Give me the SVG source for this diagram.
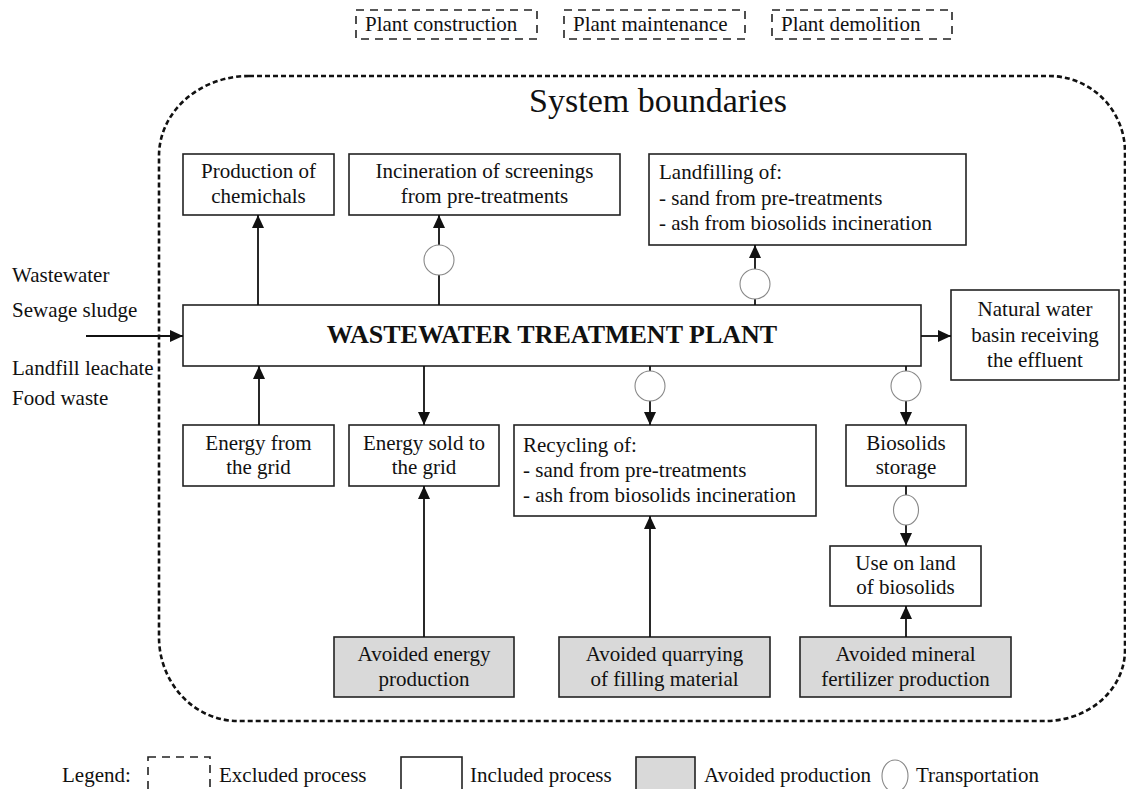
<svg xmlns="http://www.w3.org/2000/svg" width="1126" height="789" viewBox="0 0 1126 789">
<style>
text{font-family:"Liberation Serif","Times New Roman",serif;font-size:21px;fill:#111}
.c{text-anchor:middle}
.box{fill:#fff;stroke:#222;stroke-width:1.6}
.av{fill:#d9d9d9;stroke:#222;stroke-width:1.6}
.ex{fill:none;stroke:#222;stroke-width:1.6;stroke-dasharray:8 6}
.ln{fill:none;stroke:#111;stroke-width:1.8}
.tr{fill:#fff;stroke:#888;stroke-width:1.1}
.bd{fill:none;stroke:#111;stroke-width:2.6;stroke-dasharray:5 3}
</style>
<defs>
<marker id="ah" markerUnits="userSpaceOnUse" markerWidth="13" markerHeight="12" viewBox="0 0 13 12" refX="13" refY="6" orient="auto">
<path d="M0,0 L13,6 L0,12 Z" fill="#111"/>
</marker>
</defs>
<rect width="1126" height="789" fill="#fff"/>

<g id="excluded">
<rect class="ex" x="356" y="10" width="181" height="29"/>
<text x="365" y="31">Plant construction</text>
<rect class="ex" x="564" y="10" width="181" height="29"/>
<text x="573" y="31">Plant maintenance</text>
<rect class="ex" x="772" y="10" width="180" height="29"/>
<text x="781" y="31">Plant demolition</text>
</g>

<g id="boundary">
<path class="bd" d="M249,76 H1049 A76,76 0 0 1 1125,152 V650 A80,71 0 0 1 1045,721 H238 A79,84 0 0 1 159,637 V156 A90,80 0 0 1 249,76 Z"/>
<text class="c" x="658" y="112" style="font-size:34px">System boundaries</text>
</g>

<g id="inputs">
<text x="12" y="282">Wastewater</text>
<text x="12" y="317">Sewage sludge</text>
<text x="12" y="375">Landfill leachate</text>
<text x="12" y="405">Food waste</text>
</g>

<g id="wwtp">
<rect class="box" x="183" y="305" width="738" height="61"/>
<text class="c" x="552" y="343" style="font-size:26px;font-weight:bold">WASTEWATER TREATMENT PLANT</text>
</g>

<g id="chemicals">
<rect class="box" x="183" y="154" width="151" height="61"/>
<text class="c" x="258.5" y="178">Production of</text>
<text class="c" x="258.5" y="203">chemichals</text>
</g>
<g id="incineration">
<rect class="box" x="349" y="154" width="271" height="61"/>
<text class="c" x="484.5" y="178">Incineration of screenings</text>
<text class="c" x="484.5" y="203">from pre-treatments</text>
</g>
<g id="landfilling">
<rect class="box" x="649" y="154" width="317" height="91"/>
<text x="659" y="179">Landfilling of:</text>
<text x="659" y="205">- sand from pre-treatments</text>
<text x="659" y="230">- ash from biosolids incineration</text>
</g>
<g id="natural-water">
<rect class="box" x="951" y="290" width="168" height="90"/>
<text class="c" x="1035" y="316">Natural water</text>
<text class="c" x="1035" y="342">basin receiving</text>
<text class="c" x="1035" y="367">the effluent</text>
</g>
<g id="energy-from-grid">
<rect class="box" x="183" y="425" width="151" height="61"/>
<text class="c" x="258.5" y="450">Energy from</text>
<text class="c" x="258.5" y="474">the grid</text>
</g>
<g id="energy-sold">
<rect class="box" x="349" y="425" width="150" height="61"/>
<text class="c" x="424" y="450">Energy sold to</text>
<text class="c" x="424" y="474">the grid</text>
</g>
<g id="recycling">
<rect class="box" x="514" y="425" width="302" height="91"/>
<text x="523" y="452">Recycling of:</text>
<text x="523" y="477">- sand from pre-treatments</text>
<text x="523" y="502">- ash from biosolids incineration</text>
</g>
<g id="biosolids-storage">
<rect class="box" x="846" y="425" width="120" height="61"/>
<text class="c" x="906" y="450">Biosolids</text>
<text class="c" x="906" y="474">storage</text>
</g>
<g id="use-on-land">
<rect class="box" x="830" y="546" width="151" height="60"/>
<text class="c" x="905.5" y="570">Use on land</text>
<text class="c" x="905.5" y="594">of biosolids</text>
</g>
<g id="avoided-energy">
<rect class="av" x="334" y="637" width="180" height="60"/>
<text class="c" x="424" y="661">Avoided energy</text>
<text class="c" x="424" y="686">production</text>
</g>
<g id="avoided-quarrying">
<rect class="av" x="559" y="637" width="211" height="60"/>
<text class="c" x="664.5" y="661">Avoided quarrying</text>
<text class="c" x="664.5" y="686">of filling material</text>
</g>
<g id="avoided-fertilizer">
<rect class="av" x="800" y="637" width="211" height="60"/>
<text class="c" x="905.5" y="661">Avoided mineral</text>
<text class="c" x="905.5" y="686">fertilizer production</text>
</g>

<g id="connectors">
<line class="ln" x1="258" y1="305" x2="258" y2="215" marker-end="url(#ah)"/>
<line class="ln" x1="439" y1="305" x2="439" y2="275"/>
<line class="ln" x1="439" y1="245" x2="439" y2="215" marker-end="url(#ah)"/>
<line class="ln" x1="755" y1="305" x2="755" y2="299"/>
<line class="ln" x1="755" y1="269" x2="755" y2="245" marker-end="url(#ah)"/>
<line class="ln" x1="86" y1="336" x2="183" y2="336" marker-end="url(#ah)"/>
<line class="ln" x1="921" y1="336" x2="951" y2="336" marker-end="url(#ah)"/>
<line class="ln" x1="259" y1="425" x2="259" y2="366" marker-end="url(#ah)"/>
<line class="ln" x1="424" y1="366" x2="424" y2="425" marker-end="url(#ah)"/>
<line class="ln" x1="650" y1="366" x2="650" y2="371"/>
<line class="ln" x1="650" y1="401" x2="650" y2="425" marker-end="url(#ah)"/>
<line class="ln" x1="906" y1="366" x2="906" y2="371"/>
<line class="ln" x1="906" y1="401" x2="906" y2="425" marker-end="url(#ah)"/>
<line class="ln" x1="424" y1="637" x2="424" y2="486" marker-end="url(#ah)"/>
<line class="ln" x1="650" y1="637" x2="650" y2="516" marker-end="url(#ah)"/>
<line class="ln" x1="906" y1="486" x2="906" y2="495"/>
<line class="ln" x1="906" y1="525" x2="906" y2="546" marker-end="url(#ah)"/>
<line class="ln" x1="906" y1="637" x2="906" y2="606" marker-end="url(#ah)"/>
</g>

<g id="transport">
<circle class="tr" cx="439" cy="260" r="15"/>
<circle class="tr" cx="755" cy="284" r="15"/>
<circle class="tr" cx="650" cy="386" r="15"/>
<circle class="tr" cx="906" cy="386" r="15"/>
<ellipse class="tr" cx="906" cy="510" rx="12.5" ry="15"/>
</g>

<g id="legend">
<text x="62" y="782">Legend:</text>
<rect class="ex" x="148" y="757" width="62" height="45"/>
<text x="219" y="782">Excluded process</text>
<rect class="box" x="401" y="757" width="61" height="45"/>
<text x="470" y="782">Included process</text>
<rect class="av" x="636" y="757" width="59" height="45"/>
<text x="704" y="782">Avoided production</text>
<ellipse class="tr" cx="895" cy="776" rx="13" ry="16"/>
<text x="916" y="782">Transportation</text>
</g>
</svg>
